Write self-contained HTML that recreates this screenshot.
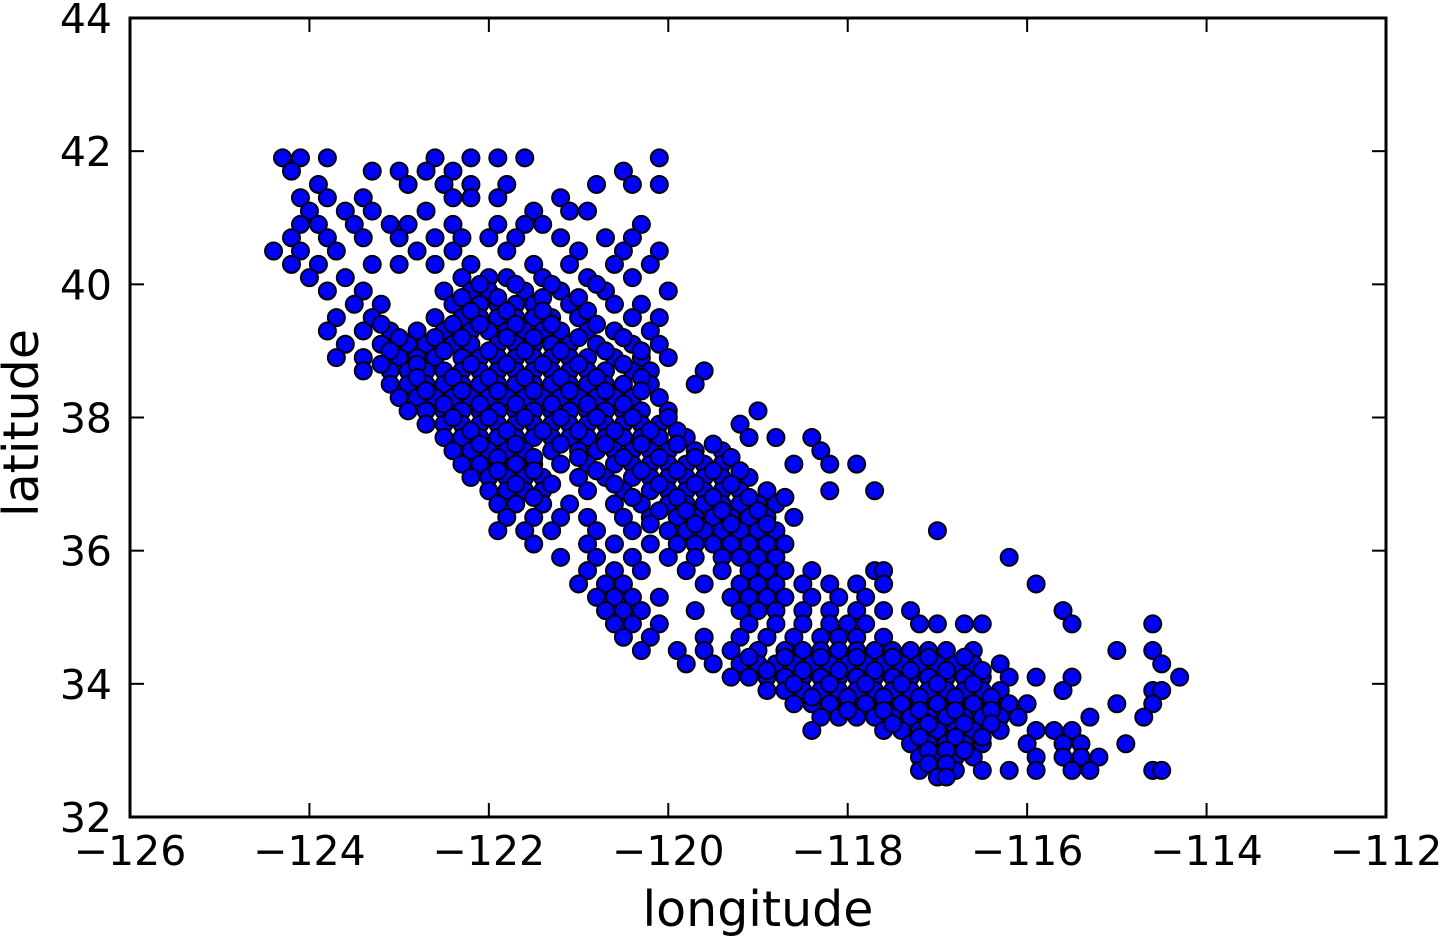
<!DOCTYPE html>
<html><head><meta charset="utf-8"><style>
html,body{margin:0;padding:0;background:#fff;width:1440px;height:938px;overflow:hidden}
svg text{font-family:"DejaVu Sans","Liberation Sans",sans-serif;fill:#000}
</style></head><body>
<svg id="chart" width="1440" height="938" xmlns="http://www.w3.org/2000/svg">
<g id="points"></g>
<rect x="130" y="18" width="1256" height="799" fill="none" stroke="#000" stroke-width="3"/>
<g id="ticks"></g>
<text x="758" y="926" font-size="49" text-anchor="middle">longitude</text>
<text transform="translate(38,423) rotate(-90)" font-size="49" text-anchor="middle">latitude</text>
</svg>
<script>
const xTicks = [-126,-124,-122,-120,-118,-116,-114,-112];
const yTicks = [32,34,36,38,40,42,44];
const rowLats = [41.9,41.7,41.5,41.3,41.1,40.9,40.7,40.5,40.3,40.1,39.9,39.7,39.5,39.3,39.1,38.9,38.7,38.5,38.3,38.1,37.9,37.7,37.5,37.3,37.1,36.9,36.7,36.5,36.3,36.1,35.9,35.7,35.5,35.3,35.1,34.9,34.7,34.5,34.3,34.1,33.9,33.7,33.5,33.3,33.1,32.9,32.7,
40.0,39.8,39.6,39.4,39.2,39.0,38.8,38.6,38.4,38.2,38.0,37.8,37.6,37.4,37.2,37.0,36.8,36.6,36.4,34.4,34.2,34.0,33.8,33.6,33.4,33.2,33.0,32.8,32.6];
const rowLons = [
[-124.3,-124.1,-123.8,-122.6,-122.2,-121.9,-121.6,-120.1],
[-124.2,-123.3,-123.0,-122.7,-122.4,-120.5],
[-123.9,-122.9,-122.5,-122.2,-121.8,-120.8,-120.4,-120.1],
[-124.1,-123.8,-123.4,-122.4,-122.2,-121.9,-121.2],
[-124.0,-123.6,-123.3,-122.7,-121.5,-121.1,-120.9],
[-124.1,-123.9,-123.5,-123.1,-122.9,-122.4,-121.9,-121.6,-121.4,-120.3],
[-124.2,-123.8,-123.4,-123.0,-122.6,-122.3,-122.0,-121.7,-121.2,-120.7,-120.4],
[-124.4,-124.1,-123.7,-122.8,-122.4,-121.8,-121.0,-120.5,-120.1],
[-124.2,-123.9,-123.3,-123.0,-122.6,-122.2,-121.5,-121.1,-120.6,-120.2],
[-124.0,-123.6,-122.3,-122.0,-121.8,-121.4,-120.9,-120.4],
[-123.8,-123.4,-122.5,-122.2,-122.0,-121.6,-121.2,-120.7,-120.0],
[-123.5,-123.2,-122.4,-122.1,-121.9,-121.7,-121.5,-121.1,-120.6,-120.3],
[-123.7,-123.3,-122.6,-122.3,-122.1,-121.9,-121.7,-121.5,-121.3,-121.0,-120.4,-120.1],
[-123.8,-123.4,-123.1,-122.8,-122.5,-122.2,-122.0,-121.8,-121.6,-121.4,-121.2,-120.9,-120.6,-120.2],
[-123.6,-123.2,-122.9,-122.7,-122.4,-122.2,-121.9,-121.7,-121.5,-121.3,-121.1,-120.8,-120.4,-120.1],
[-123.7,-123.4,-123.0,-122.8,-122.6,-122.3,-122.1,-121.9,-121.7,-121.5,-121.3,-121.1,-120.9,-120.6,-120.3,-120.0],
[-123.4,-123.1,-122.9,-122.7,-122.5,-122.3,-122.1,-121.9,-121.7,-121.5,-121.3,-121.1,-120.9,-120.7,-120.4,-120.2,-119.6],
[-123.1,-122.9,-122.7,-122.5,-122.3,-122.1,-121.9,-121.7,-121.5,-121.3,-121.1,-120.9,-120.7,-120.5,-120.2,-119.7],
[-123.0,-122.8,-122.6,-122.4,-122.2,-122.0,-121.8,-121.6,-121.4,-121.2,-121.0,-120.8,-120.6,-120.4,-120.1],
[-122.9,-122.7,-122.5,-122.3,-122.1,-121.9,-121.7,-121.5,-121.3,-121.1,-120.9,-120.7,-120.5,-120.3,-120.0,-119.0],
[-122.7,-122.5,-122.3,-122.1,-121.9,-121.7,-121.5,-121.3,-121.1,-120.9,-120.7,-120.5,-120.3,-120.1,-119.2],
[-122.5,-122.3,-122.1,-121.9,-121.7,-121.5,-121.3,-121.1,-120.9,-120.7,-120.5,-120.3,-120.1,-119.8,-119.1,-118.8,-118.4],
[-122.4,-122.2,-122.0,-121.8,-121.6,-121.3,-121.0,-120.8,-120.6,-120.4,-120.2,-120.0,-119.7,-119.4,-118.3],
[-122.3,-122.1,-121.9,-121.7,-121.5,-121.2,-120.9,-120.6,-120.4,-120.2,-120.0,-119.8,-119.6,-119.4,-118.6,-118.2,-117.9],
[-122.2,-122.0,-121.8,-121.6,-121.4,-121.0,-120.7,-120.4,-120.2,-120.0,-119.8,-119.6,-119.4,-119.1],
[-122.0,-121.8,-121.6,-121.4,-120.9,-120.5,-120.2,-120.0,-119.8,-119.6,-119.4,-119.2,-118.9,-118.2,-117.7],
[-121.9,-121.7,-121.4,-121.1,-120.6,-120.3,-120.0,-119.8,-119.6,-119.4,-119.2,-119.0,-118.8],
[-121.8,-121.5,-121.2,-120.9,-120.5,-120.2,-119.9,-119.7,-119.5,-119.3,-119.1,-118.9,-118.6],
[-121.9,-121.6,-121.3,-120.8,-120.4,-120.0,-119.8,-119.6,-119.4,-119.2,-119.0,-118.8,-117.0],
[-121.5,-120.9,-120.6,-120.2,-119.9,-119.7,-119.5,-119.3,-119.1,-118.9,-118.7],
[-121.2,-120.8,-120.4,-120.0,-119.7,-119.4,-119.2,-119.0,-118.8,-116.2],
[-120.9,-120.6,-120.3,-119.8,-119.4,-119.1,-118.9,-118.7,-118.4,-117.7,-117.6],
[-121.0,-120.7,-120.5,-119.6,-119.2,-119.0,-118.8,-118.5,-118.2,-117.9,-117.6,-115.9],
[-120.8,-120.6,-120.4,-120.1,-119.3,-119.1,-118.9,-118.7,-118.4,-118.1,-117.8],
[-120.7,-120.5,-120.3,-119.7,-119.2,-119.0,-118.8,-118.5,-118.2,-117.9,-117.6,-117.3,-115.6],
[-120.6,-120.4,-120.1,-119.1,-118.8,-118.5,-118.2,-118.0,-117.8,-117.2,-117.0,-116.7,-116.5,-115.5,-114.6],
[-120.5,-120.2,-119.6,-119.2,-118.9,-118.6,-118.3,-118.1,-117.9,-117.6],
[-120.3,-119.9,-119.6,-119.3,-119.0,-118.7,-118.5,-118.3,-118.1,-117.9,-117.7,-117.5,-117.3,-117.1,-116.9,-116.6,-115.0,-114.6],
[-119.8,-119.5,-119.2,-119.0,-118.8,-118.6,-118.4,-118.2,-118.0,-117.8,-117.6,-117.4,-117.2,-117.0,-116.8,-116.6,-116.3,-114.5],
[-119.3,-119.1,-118.9,-118.7,-118.5,-118.3,-118.1,-117.9,-117.7,-117.5,-117.3,-117.1,-116.9,-116.7,-116.5,-116.2,-115.9,-115.5,-114.3],
[-118.9,-118.7,-118.5,-118.3,-118.1,-117.9,-117.7,-117.5,-117.3,-117.1,-116.9,-116.7,-116.5,-116.3,-115.6,-114.6,-114.5],
[-118.6,-118.4,-118.2,-118.0,-117.8,-117.6,-117.4,-117.2,-117.0,-116.8,-116.6,-116.4,-116.2,-116.0,-115.0,-114.6],
[-118.3,-118.1,-117.9,-117.7,-117.5,-117.3,-117.1,-116.9,-116.7,-116.5,-116.3,-116.1,-115.3,-114.7],
[-118.4,-117.6,-117.4,-117.2,-117.0,-116.8,-116.6,-116.3,-115.9,-115.7,-115.5],
[-117.3,-117.1,-116.9,-116.7,-116.5,-116.0,-115.6,-115.4,-114.9],
[-117.2,-117.0,-116.8,-116.6,-115.9,-115.6,-115.4,-115.2],
[-117.2,-117.0,-116.8,-116.5,-116.2,-115.9,-115.5,-115.3,-114.6,-114.5],
[-122.1,-121.7,-121.3,-120.8],
[-122.3,-121.9,-121.4,-121.0],
[-122.2,-121.8,-121.4,-120.9],
[-123.2,-122.4,-122.1,-121.7,-121.3,-120.8],
[-123.0,-122.6,-122.3,-121.8,-121.5,-121.0,-120.5],
[-123.1,-122.5,-122.0,-121.6,-121.2,-120.7,-120.3],
[-123.2,-122.8,-122.2,-121.8,-121.4,-121.0,-120.5],
[-122.8,-122.4,-122.0,-121.6,-121.2,-120.8,-120.3],
[-122.7,-122.3,-121.9,-121.5,-121.1,-120.7,-120.3],
[-122.5,-122.1,-121.7,-121.3,-120.9,-120.5],
[-122.4,-122.0,-121.6,-121.2,-120.8,-120.4,-120.0],
[-122.2,-121.8,-121.4,-121.0,-120.6,-120.2,-119.9],
[-122.1,-121.7,-121.2,-120.7,-120.3,-119.9,-119.5],
[-121.9,-121.5,-121.0,-120.5,-120.1,-119.7,-119.3],
[-121.9,-121.5,-120.8,-120.3,-119.9,-119.5,-119.2],
[-121.7,-121.3,-120.6,-120.1,-119.7,-119.3],
[-121.5,-120.4,-119.9,-119.5,-119.1,-118.7],
[-120.1,-119.8,-119.4,-119.0],
[-120.2,-119.7,-119.3,-118.9],
[-119.1,-118.7,-118.3,-117.9,-117.5,-117.1,-116.7],
[-118.9,-118.5,-118.1,-117.7,-117.3,-116.9,-116.5],
[-118.6,-118.2,-117.8,-117.4,-117.0,-116.6],
[-118.4,-118.0,-117.6,-117.2,-116.8,-116.4],
[-118.0,-117.6,-117.2,-116.8,-116.4],
[-117.5,-117.1,-116.7,-116.4],
[-117.2,-116.8,-116.5],
[-117.1,-116.9,-116.7],
[-117.1,-116.9],
[-117.0,-116.9]
];
const NS='http://www.w3.org/2000/svg';
const L=130,R=1386,T=18,B=817;
const xMin=-126,xMax=-112,yMin=32,yMax=44;
function xs(v){return L+(v-xMin)/(xMax-xMin)*(R-L);}
function ys(v){return B-(v-yMin)/(yMax-yMin)*(B-T);}
const gp=document.getElementById('points');
rowLats.forEach((lat,i)=>{
  rowLons[i].forEach(lon=>{
    const c=document.createElementNS(NS,'circle');
    
    
    c.setAttribute('cx',xs(lon));c.setAttribute('cy',ys(lat));c.setAttribute('r',8.5);
    c.setAttribute('fill','#0000ff');c.setAttribute('stroke','#000');c.setAttribute('stroke-width',2);
    gp.appendChild(c);
  });
});
const gt=document.getElementById('ticks');
function line(x1,y1,x2,y2){const l=document.createElementNS(NS,'line');
  
  
  l.setAttribute('x1',x1);l.setAttribute('y1',y1);l.setAttribute('x2',x2);l.setAttribute('y2',y2);
  l.setAttribute('stroke','#000');l.setAttribute('stroke-width',2);gt.appendChild(l);}
function txt(x,y,s,anchor){const t=document.createElementNS(NS,'text');
  
  
  t.setAttribute('x',x);t.setAttribute('y',y);t.setAttribute('font-size',41);t.setAttribute('text-anchor',anchor);
  t.textContent=s;gt.appendChild(t);}
xTicks.forEach(v=>{const x=xs(v);line(x,B,x,B-14);line(x,T,x,T+14);
  txt(x,865,(v<0?'\u2212':'')+Math.abs(v),'middle');});
yTicks.forEach(v=>{const y=ys(v);line(L,y,L+14,y);line(R,y,R-14,y);
  txt(112,y+15,String(v),'end');});
</script>
</body></html>
